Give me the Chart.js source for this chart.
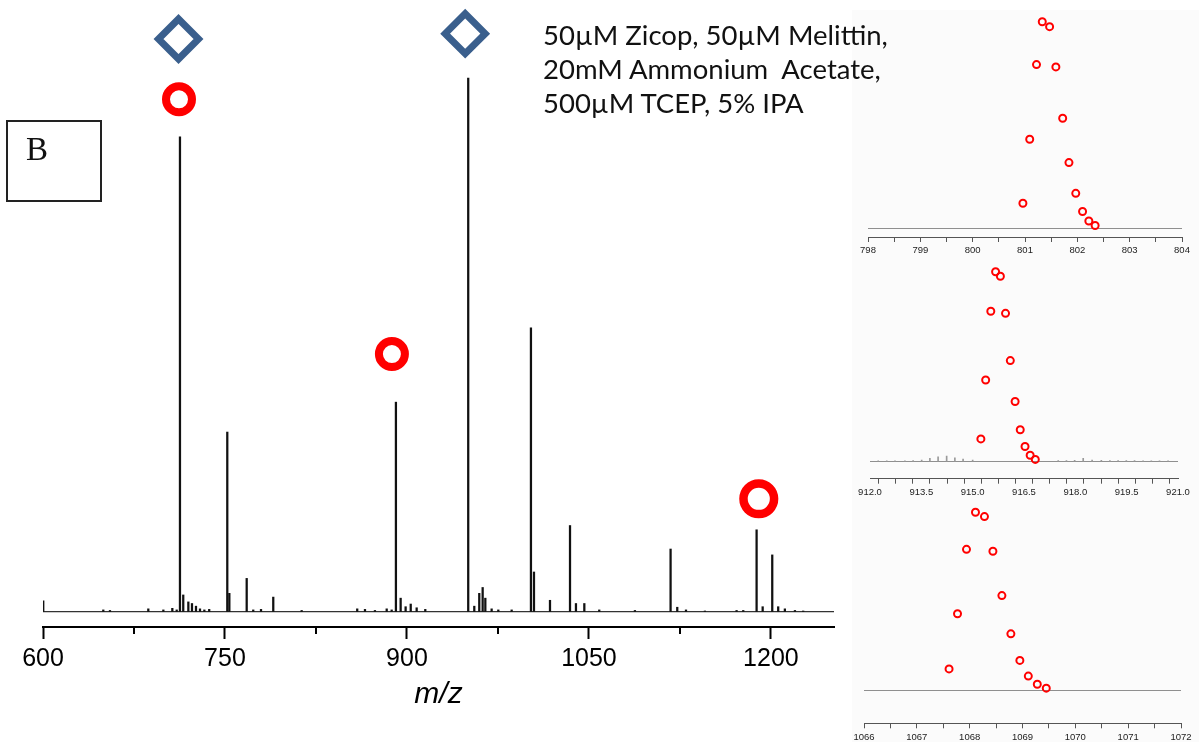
<!DOCTYPE html>
<html>
<head>
<meta charset="utf-8">
<script src="https://cdn.jsdelivr.net/npm/chart.js@4"></script>
<style>
  html, body { margin: 0; padding: 0; background: #fff; }
  #wrap { position: relative; width: 1199px; height: 742px; overflow: hidden; }
  canvas { position: absolute; }
  #insetBg { position: absolute; left: 852px; top: 10px; width: 347px; height: 732px; background: #fbfbfb; }
  #note { position: absolute; left: 543px; top: 18px; font-family: Lato, "Open Sans", sans-serif; font-size: 27.5px; line-height: 34px; color: #111; white-space: nowrap; }
  #panel { position: absolute; left: 6px; top: 120px; width: 96px; height: 82px; box-sizing: border-box; border: 2px solid #222; }
  #panel span { position: absolute; left: 18px; top: 9px; font-family: "Liberation Serif", "Times New Roman", serif; font-size: 33px; line-height: 1.1; color: #111; }
</style>
</head>
<body>
<div id="wrap">
  <div id="insetBg"></div>
  <canvas id="inset1"></canvas>
  <canvas id="inset2"></canvas>
  <canvas id="inset3"></canvas>
  <canvas id="main" width="845" height="742" style="left:0;top:0"></canvas>
  <div id="panel"><span>B</span></div>
  <div id="note">50µM Zicop, 50µM Melittin,<br>20mM Ammonium&nbsp;&nbsp;Acetate,<br>500µM TCEP, 5% IPA</div>
</div>
<script>
// main spectrum: peak m/z and relative intensity (%)
const peakMz = [600.2, 649.7, 655.2, 686.8, 699.2, 706.6, 710.2, 712.9, 715.6, 719.8, 722.8, 726.1, 729.4, 733.0, 737.0,
  751.9, 753.6, 767.9, 773.3, 779.7, 789.8, 813.2, 859.0, 865.4, 873.6, 883.3, 887.4, 890.9, 894.8, 898.9, 903.1, 908.0, 915.1,
  950.5, 955.5, 959.6, 962.4, 964.6, 969.8, 975.3, 986.3, 1002.2, 1004.7, 1017.9, 1034.4, 1039.3, 1046.2, 1058.5, 1087.9,
  1117.3, 1122.8, 1130.0, 1145.6, 1171.7, 1177.2, 1188.2, 1193.2, 1201.1, 1206.0, 1211.5, 1219.8, 1226.6];
const peakIntensity = [2.1, 0.4, 0.3, 0.6, 0.4, 0.7, 0.4, 89.0, 3.2, 1.9, 1.6, 1.1, 0.6, 0.4, 0.5,
  33.7, 3.5, 6.3, 0.4, 0.5, 2.8, 0.3, 0.6, 0.5, 0.3, 0.6, 0.4, 39.3, 2.6, 1.0, 1.5, 0.8, 0.5,
  100, 1.1, 3.5, 4.6, 2.6, 0.6, 0.4, 0.4, 53.2, 7.5, 2.2, 16.2, 1.6, 1.6, 0.4, 0.3,
  11.8, 0.9, 0.4, 0.2, 0.3, 0.3, 15.4, 1.0, 10.7, 1.0, 0.6, 0.3, 0.2];

// annotation markers above peaks
const diamondMz = [711.7, 948.0];
const diamondLevel = [107.3, 108.3];
const circleMz = [712.1, 887.6, 1190.0];
const circleLevel = [96.0, 48.3, 21.2];

const mainTicks = [600, 750, 900, 1050, 1200];
const mainMinorTicks = [675, 825, 975, 1125];

// zoomed isotope envelopes (insets)
const isoIntensity = [100, 97.6, 79.2, 78.1, 53.2, 43.0, 31.7, 16.8, 12.0, 8.0, 3.4, 1.2];
const inset1Mz = [801.33, 801.47, 801.22, 801.59, 801.72, 801.09, 801.84, 801.97, 800.96, 802.10, 802.22, 802.34];
const inset2Mz = [915.67, 915.81, 915.53, 915.96, 916.10, 915.38, 916.24, 916.39, 915.24, 916.53, 916.68, 916.83];
const inset3Mz = [1068.11, 1068.28, 1067.94, 1068.44, 1068.61, 1067.77, 1068.78, 1068.95, 1067.61, 1069.11, 1069.28, 1069.45];
const inset1Ticks = [798, 799, 800, 801, 802, 803, 804];
const inset2Ticks = [912, 913.5, 915, 916.5, 918, 919.5, 921];
const inset3Ticks = [1066, 1067, 1068, 1069, 1070, 1071, 1072];

// baseline ripple in the second inset
const inset2NoiseMz = [912.24, 912.49, 912.73, 913.02, 913.26, 913.51, 913.75, 913.99, 914.24, 914.48, 914.72, 915.0,
  917.50, 917.74, 917.98, 918.23, 918.49, 918.76, 919.01, 919.25, 919.49, 919.73, 919.98, 920.22, 920.46, 920.71];
const inset2NoiseLevel = [0.5, 0.5, 0.5, 0.5, 0.6, 0.8, 1.8, 2.6, 3.0, 2.1, 1.4, 0.9,
  0.6, 0.6, 0.7, 1.8, 0.9, 0.7, 0.6, 0.6, 0.6, 0.6, 0.5, 0.5, 0.5, 0.5];

const sansFont = '"Liberation Sans", Arial, sans-serif';

// short minor tick marks under the main axis
const minorTicks = {
  id: 'minorTicks',
  afterDraw(chart, args, opts) {
    if (!opts.values) return;
    const xs = chart.scales.x, ctx = chart.ctx, y0 = chart.chartArea.bottom;
    ctx.save();
    ctx.strokeStyle = '#000';
    ctx.lineWidth = 2;
    opts.values.forEach(v => {
      const px = Math.round(xs.getPixelForValue(v));
      ctx.beginPath();
      ctx.moveTo(px, y0);
      ctx.lineTo(px, y0 + opts.length);
      ctx.stroke();
    });
    ctx.restore();
  }
};

new Chart(document.getElementById('main'), {
  type: 'bar',
  data: {
    datasets: [
      {
        type: 'scatter',
        data: diamondMz.map((x, i) => ({ x: x, y: diamondLevel[i] })),
        pointStyle: 'rectRot',
        pointRadius: 20,
        borderWidth: 7,
        borderColor: '#3a5f8d',
        backgroundColor: 'rgba(0,0,0,0)',
        clip: false
      },
      {
        type: 'scatter',
        data: circleMz.map((x, i) => ({ x: x, y: circleLevel[i] })),
        pointStyle: 'circle',
        pointRadius: [13, 13, 15.3],
        borderWidth: [8, 8, 8.5],
        borderColor: '#ff0000',
        backgroundColor: 'rgba(0,0,0,0)',
        clip: false
      },
      {
        type: 'bar',
        data: peakMz.map((x, i) => ({ x: x, y: peakIntensity[i] })),
        barThickness: 1.6,
        backgroundColor: '#111',
        borderWidth: 0
      }
    ]
  },
  options: {
    responsive: false,
    animation: false,
    layout: { autoPadding: false, padding: { left: 43, right: 11, top: 0, bottom: 0 } },
    plugins: {
      legend: { display: false },
      tooltip: { enabled: false },
      minorTicks: { values: mainMinorTicks, length: 7 }
    },
    scales: {
      x: {
        type: 'linear',
        min: mainTicks[0],
        max: 1252,
        offset: false,
        border: { display: true, color: '#000', width: 2 },
        grid: { display: true, drawOnChartArea: false, drawTicks: true, tickLength: 12, tickColor: '#000', tickWidth: 2, offset: false },
        ticks: {
          stepSize: 150, includeBounds: false, autoSkip: false, maxRotation: 0, padding: 5, color: '#000',
          font: { family: sansFont, size: 25 },
          callback: v => mainTicks.includes(v) ? String(v) : ''
        },
        title: { display: true, text: 'm/z', color: '#000', font: { family: sansFont, size: 30, style: 'italic' }, padding: { top: 0, bottom: 29 } },
        afterFit: s => { s.height = 115; }
      },
      y: {
        type: 'linear',
        min: -2.8,
        max: 114.6,
        border: { display: false },
        ticks: { display: false, stepSize: 100, includeBounds: false },
        grid: { drawTicks: false, lineWidth: 1.2, color: c => (c.tick && c.tick.value === 0) ? '#333' : 'rgba(0,0,0,0)' },
        afterFit: s => { s.width = 0; }
      }
    }
  },
  plugins: [minorTicks]
});

// layout of the three insets (pixels)
const insetLayout = [
  { id: 'inset1', top: 0,   height: 262, left: 28, right: 17, axisY: 237,   baseY: 228,   ppu: 2.063, mz: inset1Mz, ticks: inset1Ticks, digits: 0 },
  { id: 'inset2', top: 255, height: 245, left: 30, right: 21, axisY: 223.7, baseY: 206.7, ppu: 1.9,   mz: inset2Mz, ticks: inset2Ticks, digits: 1,
    noiseMz: inset2NoiseMz, noiseLevel: inset2NoiseLevel },
  { id: 'inset3', top: 497, height: 245, left: 24, right: 18, axisY: 226.3, baseY: 193.3, ppu: 1.78,  mz: inset3Mz, ticks: inset3Ticks, digits: 0 }
];

insetLayout.forEach(L => {
  const cv = document.getElementById(L.id);
  cv.width = 359;
  cv.height = L.height;
  cv.style.left = '840px';
  cv.style.top = L.top + 'px';

  const datasets = [{
    type: 'scatter',
    data: L.mz.map((x, i) => ({ x: x, y: isoIntensity[i] })),
    pointStyle: 'circle',
    pointRadius: 3.5,
    borderWidth: 2,
    borderColor: '#ff0000',
    backgroundColor: 'rgba(0,0,0,0)'
  }];
  if (L.noiseMz) {
    datasets.push({
      type: 'bar',
      data: L.noiseMz.map((x, i) => ({ x: x, y: L.noiseLevel[i] })),
      barThickness: 1,
      backgroundColor: '#9a9a9a',
      borderWidth: 0
    });
  }

  new Chart(cv, {
    type: 'scatter',
    data: { datasets: datasets },
    options: {
      responsive: false,
      animation: false,
      layout: { autoPadding: false, padding: { left: L.left, right: L.right, top: 0, bottom: 0 } },
      plugins: { legend: { display: false }, tooltip: { enabled: false } },
      scales: {
        x: {
          type: 'linear',
          min: L.ticks[0],
          max: L.ticks[L.ticks.length - 1],
          offset: false,
          border: { display: true, color: '#555', width: 1 },
          grid: { display: true, drawOnChartArea: false, drawTicks: true, tickLength: 5, tickColor: '#555', tickWidth: 1 },
          ticks: {
            stepSize: 0.5, includeBounds: false, autoSkip: false, maxRotation: 0, padding: 3, color: '#222',
            font: { family: sansFont, size: 9.5 },
            callback: v => L.ticks.includes(v) ? v.toFixed(L.digits) : ''
          },
          afterFit: s => { s.height = L.height - L.axisY; }
        },
        y: {
          type: 'linear',
          min: -(L.axisY - L.baseY) / L.ppu,
          max: L.baseY / L.ppu,
          border: { display: false },
          ticks: { display: false, stepSize: 100, includeBounds: false },
          grid: { drawTicks: false, lineWidth: 1, color: c => (c.tick && c.tick.value === 0) ? '#8f8f8f' : 'rgba(0,0,0,0)' },
          afterFit: s => { s.width = 0; }
        }
      }
    }
  });
});
</script>
</body>
</html>
